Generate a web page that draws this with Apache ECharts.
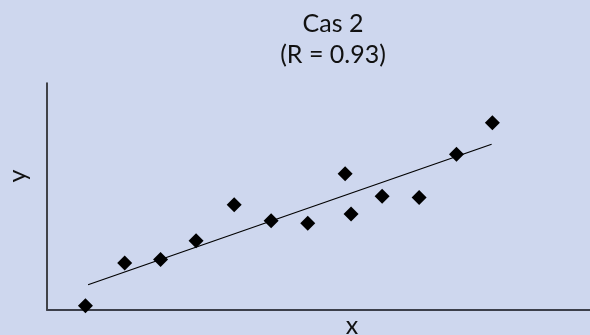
<!DOCTYPE html>
<html lang="fr">
<head>
    <meta charset="UTF-8">
    <script src="https://cdn.jsdelivr.net/npm/echarts@6/dist/echarts.min.js"></script>
    <title>Cas 2</title>
    <style>
        html, body { margin: 0; padding: 0; background: #ced7ee; }
        #chart { width: 590px; height: 335px; }
    </style>
</head>
<body>
<div id="chart"></div>
<script type="text/javascript">
    // points
    var xValues = [1.04, 2.1, 3.07, 4.03, 5.06, 6.06, 7.05, 8.06, 8.22, 9.06, 10.06, 11.07, 12.04];
    var yValues = [0.19, 2.07, 2.23, 3.05, 4.64, 3.93, 3.82, 6.0, 4.23, 5.01, 4.96, 6.86, 8.25];
    // droite de tendance (début, fin)
    var trendX = [1.11, 12.02];
    var trendY = [1.11, 7.3];

    var titleLines = ['Cas 2', '(R = 0.93)'];
    var xName = 'x';
    var yName = 'y';

    var points = xValues.map(function (x, i) { return [x, yValues[i]]; });
    var trend = trendX.map(function (x, i) { return [x, trendY[i]]; });

    var font = '25px Lato, "DejaVu Sans", sans-serif';

    var myChart = echarts.init(document.getElementById('chart'));
    var option = {
        backgroundColor: '#ced7ee',
        animation: false,
        grid: {
            left: 47,
            top: 83,
            right: 0,
            bottom: 25
        },
        xAxis: {
            type: 'value',
            min: 0,
            max: 14.68,
            splitLine: { show: false },
            axisTick: { show: false },
            axisLabel: { show: false },
            axisLine: {
                lineStyle: { color: '#3c3f4a', width: 2 }
            }
        },
        yAxis: {
            type: 'value',
            min: 0,
            max: 10,
            splitLine: { show: false },
            axisTick: { show: false },
            axisLabel: { show: false },
            axisLine: {
                lineStyle: { color: '#111', width: 1.5 }
            }
        },
        graphic: [
            {
                type: 'text',
                x: 333,
                y: 8,
                style: {
                    text: titleLines.join('\n'),
                    font: font,
                    lineHeight: 31.5,
                    fill: '#111',
                    align: 'center',
                    verticalAlign: 'top'
                }
            },
            {
                type: 'text',
                x: 18,
                y: 176,
                rotation: Math.PI / 2,
                style: {
                    text: yName,
                    font: font,
                    fill: '#111',
                    align: 'center',
                    verticalAlign: 'middle'
                }
            },
            {
                type: 'text',
                x: 352,
                y: 326,
                style: {
                    text: xName,
                    font: font,
                    fill: '#111',
                    align: 'center',
                    verticalAlign: 'middle'
                }
            }
        ],
        series: [
            {
                type: 'line',
                data: trend,
                symbol: 'none',
                lineStyle: { color: '#000', width: 1.2 },
                z: 2
            },
            {
                type: 'scatter',
                data: points,
                symbol: 'diamond',
                symbolSize: 15,
                itemStyle: { color: '#000', opacity: 1 },
                z: 3
            }
        ]
    };
    myChart.setOption(option);
</script>
</body>
</html>
